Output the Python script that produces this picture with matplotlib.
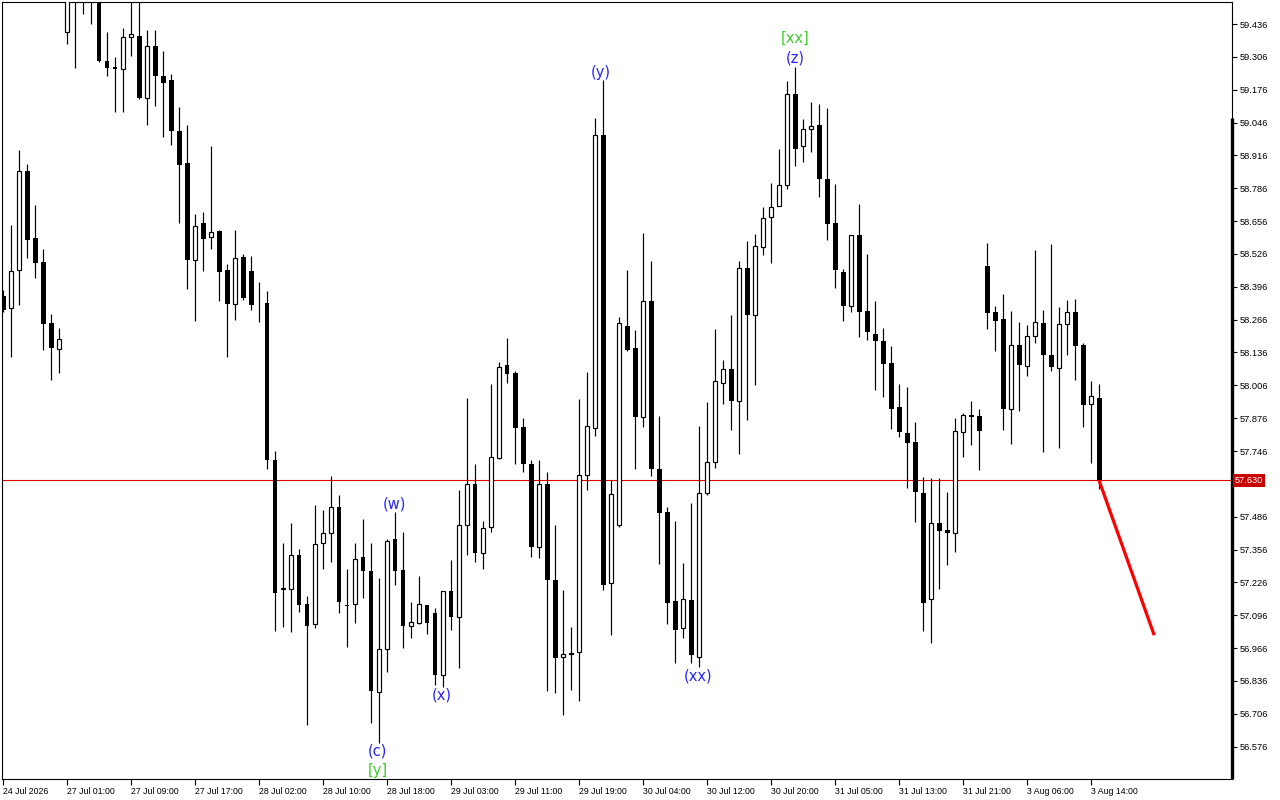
import matplotlib
matplotlib.use("Agg")
import matplotlib.pyplot as plt
import numpy as np

# hourly bars (oldest first)
OPEN = [58.360, 58.311, 58.462, 58.854, 58.588, 58.494, 58.253, 58.149, 59.403, 59.610,
        59.560, 59.620, 59.560, 59.289, 59.266, 59.257, 59.383, 59.389, 59.144, 59.348,
        59.229, 59.213, 59.013, 58.886, 58.504, 58.649, 58.595, 58.617, 58.462, 58.329,
        58.514, 58.458, 58.332, 58.332, 57.711, 57.198, 57.201, 57.335, 57.141, 57.061,
        57.381, 57.421, 57.524, 57.135, 57.140, 57.326, 57.270, 56.792, 56.962, 57.397,
        57.274, 57.055, 57.065, 57.136, 57.104, 56.861, 57.191, 57.091, 57.452, 57.615,
        57.344, 57.444, 57.720, 58.086, 58.055, 57.840, 57.693, 57.368, 57.614, 57.234,
        56.929, 56.944, 56.950, 57.653, 57.838, 58.998, 57.223, 57.452, 58.241, 58.153,
        57.882, 58.340, 57.674, 57.505, 57.153, 57.045, 57.157, 56.930, 57.579, 57.702,
        58.014, 58.070, 57.943, 58.469, 58.286, 58.552, 58.671, 58.717, 58.798, 59.161,
        58.955, 59.019, 59.036, 58.822, 58.650, 58.456, 58.319, 58.602, 58.301, 58.211,
        58.183, 58.096, 57.919, 57.819, 57.780, 57.580, 57.160, 57.460, 57.434, 57.423,
        57.823, 57.888, 57.884, 58.478, 58.296, 58.269, 57.914, 58.165, 58.084, 58.200,
        58.252, 58.125, 58.074, 58.248, 58.295, 58.166, 57.931, 57.956]
HIGH = [58.384, 58.641, 58.938, 58.882, 58.720, 58.546, 58.289, 58.233, 59.650, 59.680,
        59.700, 59.680, 59.600, 59.404, 59.305, 59.420, 59.550, 59.550, 59.412, 59.412,
        59.329, 59.238, 59.107, 59.036, 58.685, 58.692, 58.954, 58.621, 58.486, 58.621,
        58.526, 58.518, 58.415, 58.379, 57.746, 57.383, 57.462, 57.359, 57.173, 57.533,
        57.513, 57.647, 57.572, 57.278, 57.381, 57.476, 57.381, 57.243, 57.397, 57.505,
        57.425, 57.149, 57.252, 57.136, 57.124, 57.191, 57.314, 57.591, 57.955, 57.693,
        57.469, 58.012, 58.097, 58.194, 58.061, 57.876, 57.712, 57.712, 57.663, 57.454,
        57.197, 57.051, 57.952, 58.058, 59.065, 59.216, 57.632, 58.276, 58.463, 58.225,
        58.609, 58.498, 57.885, 57.526, 57.469, 57.302, 57.542, 57.845, 57.940, 58.229,
        58.106, 58.285, 58.498, 58.577, 58.606, 58.712, 58.807, 58.940, 59.210, 59.266,
        59.060, 59.126, 59.118, 59.102, 58.801, 58.467, 58.602, 58.723, 58.527, 58.341,
        58.233, 58.161, 58.012, 57.999, 57.859, 57.644, 57.638, 57.638, 57.584, 57.876,
        57.897, 57.943, 57.913, 58.569, 58.320, 58.366, 58.300, 58.257, 58.245, 58.542,
        58.304, 58.566, 58.316, 58.343, 58.348, 58.175, 58.023, 58.011]
LOW = [58.297, 58.120, 58.325, 58.511, 58.432, 58.147, 58.029, 58.053, 59.356, 59.263,
       59.477, 59.437, 59.286, 59.230, 59.089, 59.089, 59.311, 59.138, 59.037, 59.113,
       58.990, 58.958, 58.650, 58.389, 58.262, 58.460, 58.546, 58.341, 58.120, 58.266,
       58.345, 58.306, 58.258, 57.676, 57.035, 57.051, 57.028, 57.107, 56.663, 57.047,
       57.278, 57.308, 57.104, 56.972, 57.065, 57.166, 56.670, 56.592, 56.873, 57.216,
       56.968, 57.008, 57.061, 57.021, 56.822, 56.814, 57.038, 56.889, 57.335, 57.306,
       57.281, 57.427, 57.715, 58.015, 57.693, 57.663, 57.327, 57.324, 56.797, 56.789,
       56.703, 56.802, 56.758, 57.590, 57.806, 57.197, 57.016, 57.444, 58.142, 57.674,
       57.843, 57.647, 57.298, 57.061, 56.906, 57.008, 56.906, 56.893, 57.573, 57.680,
       57.934, 57.829, 57.735, 57.869, 58.007, 58.522, 58.489, 58.717, 58.782, 58.874,
       58.890, 58.928, 58.750, 58.581, 58.393, 58.262, 58.298, 58.196, 58.185, 57.987,
       57.959, 57.833, 57.801, 57.599, 57.467, 57.035, 56.985, 57.200, 57.293, 57.348,
       57.724, 57.770, 57.672, 58.229, 58.143, 57.829, 57.775, 57.905, 58.044, 58.175,
       57.744, 58.064, 57.759, 58.127, 58.029, 57.843, 57.700, 57.595]
CLOSE = [58.304, 58.458, 58.854, 58.583, 58.492, 58.250, 58.155, 58.188, 59.590, 59.560,
         59.620, 59.560, 59.291, 59.263, 59.257, 59.385, 59.395, 59.144, 59.348, 59.231,
         59.204, 59.014, 58.880, 58.504, 58.636, 58.587, 58.612, 58.456, 58.329, 58.509,
         58.353, 58.325, 58.330, 57.711, 57.186, 57.202, 57.335, 57.138, 57.055, 57.377,
         57.421, 57.524, 57.150, 57.133, 57.318, 57.273, 56.798, 56.962, 57.389, 57.273,
         57.055, 57.069, 57.140, 57.067, 56.861, 57.191, 57.091, 57.452, 57.615, 57.342,
         57.441, 57.722, 58.080, 58.050, 57.838, 57.693, 57.368, 57.614, 57.234, 56.926,
         56.943, 56.946, 57.650, 57.844, 58.997, 57.217, 57.576, 58.254, 58.146, 57.882,
         58.340, 57.674, 57.500, 57.146, 57.038, 57.161, 56.938, 57.579, 57.702, 58.023,
         58.070, 57.945, 58.469, 58.286, 58.556, 58.667, 58.711, 58.798, 59.158, 58.943,
         59.019, 59.031, 58.822, 58.645, 58.461, 58.319, 58.602, 58.295, 58.216, 58.180,
         58.091, 57.911, 57.822, 57.777, 57.583, 57.144, 57.460, 57.431, 57.423, 57.824,
         57.888, 57.882, 57.827, 58.294, 58.262, 57.914, 58.165, 58.087, 58.200, 58.256,
         58.127, 58.080, 58.248, 58.295, 58.163, 57.928, 57.963, 57.630]

TIME_BARS = [0, 8, 16, 24, 32, 40, 48, 56, 64, 72, 80, 88, 96, 104, 112, 120, 128, 136]
TIME_LABELS = ["24 Jul 2026", "27 Jul 01:00", "27 Jul 09:00", "27 Jul 17:00",
               "28 Jul 02:00", "28 Jul 10:00", "28 Jul 18:00", "29 Jul 03:00",
               "29 Jul 11:00", "29 Jul 19:00", "30 Jul 04:00", "30 Jul 12:00",
               "30 Jul 20:00", "31 Jul 05:00", "31 Jul 13:00", "31 Jul 21:00",
               "3 Aug 06:00", "3 Aug 14:00"]
PRICE_TICKS = [59.436, 59.306, 59.176, 59.046, 58.916, 58.786, 58.656, 58.526,
               58.396, 58.266, 58.136, 58.006, 57.876, 57.746, 57.616, 57.486,
               57.356, 57.226, 57.096, 56.966, 56.836, 56.706, 56.576]

LAST_PRICE = 57.630
FORECAST_BARS = [137, 143.9]
FORECAST_PRICES = [57.630, 57.017]

WAVE_LABELS = ["(c)", "(w)", "(x)", "(y)", "(xx)", "(z)"]
WAVE_BARS = [46.75, 48.9, 54.9, 74.75, 86.9, 99]
WAVE_PRICES = [56.559, 57.537, 56.781, 59.246, 56.856, 59.301]
DEGREE_LABELS = ["[y]", "[xx]"]
DEGREE_BARS = [46.9, 99]
DEGREE_PRICES = [56.480, 59.381]

plt.rcParams['font.family'] = ['Liberation Sans', 'DejaVu Sans']

fig = plt.figure(figsize=(12.8, 8), dpi=100)
ax = fig.add_axes([2.3 / 1280, 1 - 779 / 800, 1230 / 1280, 776.7 / 800])

x = np.arange(len(OPEN))
o = np.array(OPEN)
h = np.array(HIGH)
l = np.array(LOW)
c = np.array(CLOSE)
up = c >= o
bottom = np.minimum(o, c)
height = np.maximum(np.abs(c - o), 0.003)

ax.vlines(x, l, h, color='black', lw=0.85, zorder=2)
ax.bar(x[~up], height[~up], bottom=bottom[~up], width=0.62, color='black',
       lw=0, zorder=3)
ax.bar(x[up], height[up], bottom=bottom[up], width=0.5, facecolor='white',
       edgecolor='black', lw=0.85, zorder=3)

ax.axhline(LAST_PRICE, color='#e00000', lw=0.8, zorder=1)
ax.plot(FORECAST_BARS, FORECAST_PRICES, color='#ff0000', lw=2.3, zorder=4,
        solid_capstyle='butt')

for lab, bx, py in zip(WAVE_LABELS, WAVE_BARS, WAVE_PRICES):
    ax.text(bx, py, lab, color='#2424ff', fontsize=10.5, family='DejaVu Sans',
            ha='center', va='center', zorder=5)
for lab, bx, py in zip(DEGREE_LABELS, DEGREE_BARS, DEGREE_PRICES):
    ax.text(bx, py, lab, color='#3ccf2a', fontsize=10.5, family='DejaVu Sans',
            ha='center', va='center', zorder=5)

ax.set_xlim(-0.09, 153.66)
ax.set_ylim(56.448, 59.522)

# the tick right under the last-price box has its label hidden
ax.yaxis.tick_right()
ax.set_yticks(PRICE_TICKS)
ax.set_yticklabels(["" if abs(v - LAST_PRICE) < 0.05 else "%.3f" % v
                    for v in PRICE_TICKS])
ax.tick_params(axis='y', direction='out', length=3.5, width=0.8, pad=1.5,
               labelsize=6.7)
ax.set_xticks(TIME_BARS)
ax.set_xticklabels(TIME_LABELS)
ax.tick_params(axis='x', direction='out', length=4, width=0.8, pad=1.5,
               labelsize=6.3)
for t in ax.get_xticklabels():
    t.set_ha('left')
for s in ax.spines.values():
    s.set_linewidth(0.8)

# thick part of the price-scale border
ax.plot([153.66, 153.66], [59.063, 56.448], color='black', lw=2.4,
        clip_on=False, solid_capstyle='butt', zorder=6)

ax.text(1.0019, LAST_PRICE, "%.3f" % LAST_PRICE, transform=ax.get_yaxis_transform(),
        ha='left', va='center', color='white', fontsize=6.7, clip_on=False,
        bbox=dict(boxstyle='square,pad=0.22', fc='#c80000', ec='none'), zorder=10)

fig.savefig("out.png", dpi=100, facecolor='white')
